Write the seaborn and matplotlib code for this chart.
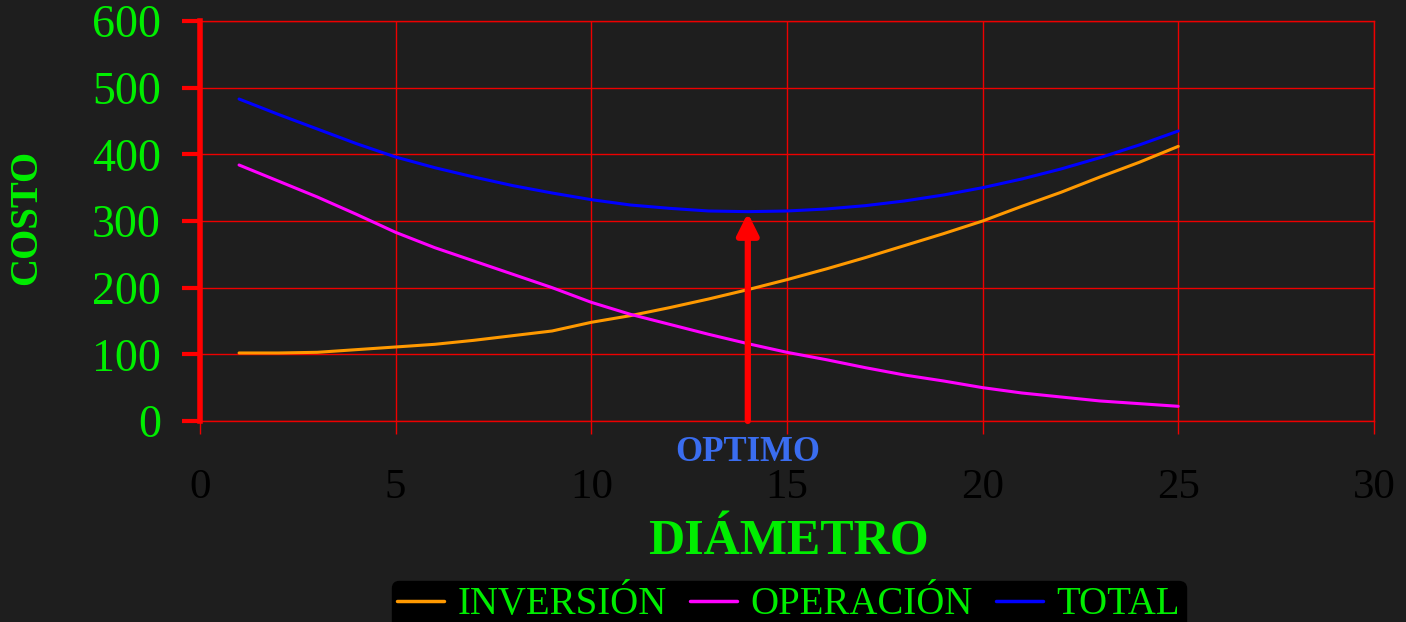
import numpy as np
import pandas as pd
import matplotlib
matplotlib.use("Agg")
import matplotlib.pyplot as plt
import seaborn as sns

# datos
diametro = list(range(1, 26))
inversion = [102, 102, 103, 107, 111, 115, 121, 128, 135, 148, 158, 170, 183,
             197, 212, 228, 245, 263, 281, 300, 322, 343, 366, 388, 412]
operacion = [384, 360, 336, 310, 283, 260, 240, 220, 200, 178, 160, 145, 130,
             116, 103, 92, 80, 69, 60, 50, 42, 36, 30, 26, 22]
total = [483, 460, 438, 416, 396, 380, 366, 353, 342, 332, 324, 319, 315,
         314, 315, 318, 323, 330, 339, 350, 363, 378, 395, 414, 435]
series = ["INVERSIÓN", "OPERACIÓN", "TOTAL"]
colores = ["#ff9900", "#ff00ff", "#0000ff"]
x_ticks = [0, 5, 10, 15, 20, 25, 30]
y_ticks = [0, 100, 200, 300, 400, 500, 600]

df = pd.DataFrame({"DIAMETRO": diametro, "INVERSIÓN": inversion,
                   "OPERACIÓN": operacion, "TOTAL": total})
largo = df.melt(id_vars="DIAMETRO", var_name="serie", value_name="COSTO")

# punto optimo = minimo del costo total
i_opt = int(np.argmin(total))
x_opt = diametro[i_opt]
y_opt = total[i_opt]

sns.set_style("dark")
plt.rcParams["font.family"] = ["Liberation Serif", "DejaVu Serif"]

bg = "#1e1e1e"
verde = "#00ee00"
rojo_grid = "#ee0000"
fig = plt.figure(figsize=(14.06, 6.22), dpi=100, facecolor=bg)
ax = fig.add_axes([0.1422, 0.3232, 0.835, 0.6430])
ax.set_facecolor(bg)

sns.lineplot(data=largo, x="DIAMETRO", y="COSTO", hue="serie",
             hue_order=series, palette=colores, linewidth=2.2, ax=ax,
             legend=False, zorder=3)

ax.set_xlim(0, 30)
ax.set_ylim(0, 600)
ax.set_xticks(x_ticks)
ax.set_yticks(y_ticks)
ax.grid(True, color=rojo_grid, linewidth=1.0)
ax.set_axisbelow(True)
for s in ["top", "right", "bottom"]:
    ax.spines[s].set_visible(True)
    ax.spines[s].set_color(rojo_grid)
    ax.spines[s].set_linewidth(1.0)
ax.spines["left"].set_color("red")
ax.spines["left"].set_linewidth(4)
ax.spines["left"].set_zorder(4)

ax.tick_params(axis="y", colors="red", length=13, width=3, pad=15,
               labelcolor=verde, labelsize=33, left=True)
ax.tick_params(axis="x", colors=rojo_grid, length=9, width=1, pad=25,
               labelcolor="black", labelsize=31, bottom=True)
ax.set_xlabel("")
ax.set_ylabel("")

# flecha del optimo
ax.annotate("", xy=(x_opt, y_opt - 2), xytext=(x_opt, 0),
            arrowprops=dict(arrowstyle="-|>", color="red", lw=4.5,
                            mutation_scale=32, shrinkA=0, shrinkB=0),
            zorder=5)
ax.text(x_opt, -48, "OPTIMO", ha="center", va="center", color="#3a6df0",
        fontsize=25, fontweight="bold", clip_on=False)

fig.text(0.561, 0.128, "DIÁMETRO", ha="center", va="center", color=verde,
         fontsize=36, fontweight="bold")
fig.text(0.019, 0.651, "COSTO", ha="center", va="center", color=verde,
         fontsize=28, fontweight="bold", rotation=90)

handles = [plt.Line2D([], [], color=c, lw=2.5) for c in colores]
leg = fig.legend(handles, series, loc="lower center", bbox_to_anchor=(0.561, -0.043),
                 ncol=3, frameon=True, fontsize=28, handlelength=1.2,
                 handletextpad=0.35, columnspacing=0.6, borderpad=0.15)
leg.get_frame().set_facecolor("black")
leg.get_frame().set_edgecolor("black")
leg.get_frame().set_alpha(1)
for t in leg.get_texts():
    t.set_color(verde)

fig.savefig("out.png", dpi=100, facecolor=bg)
